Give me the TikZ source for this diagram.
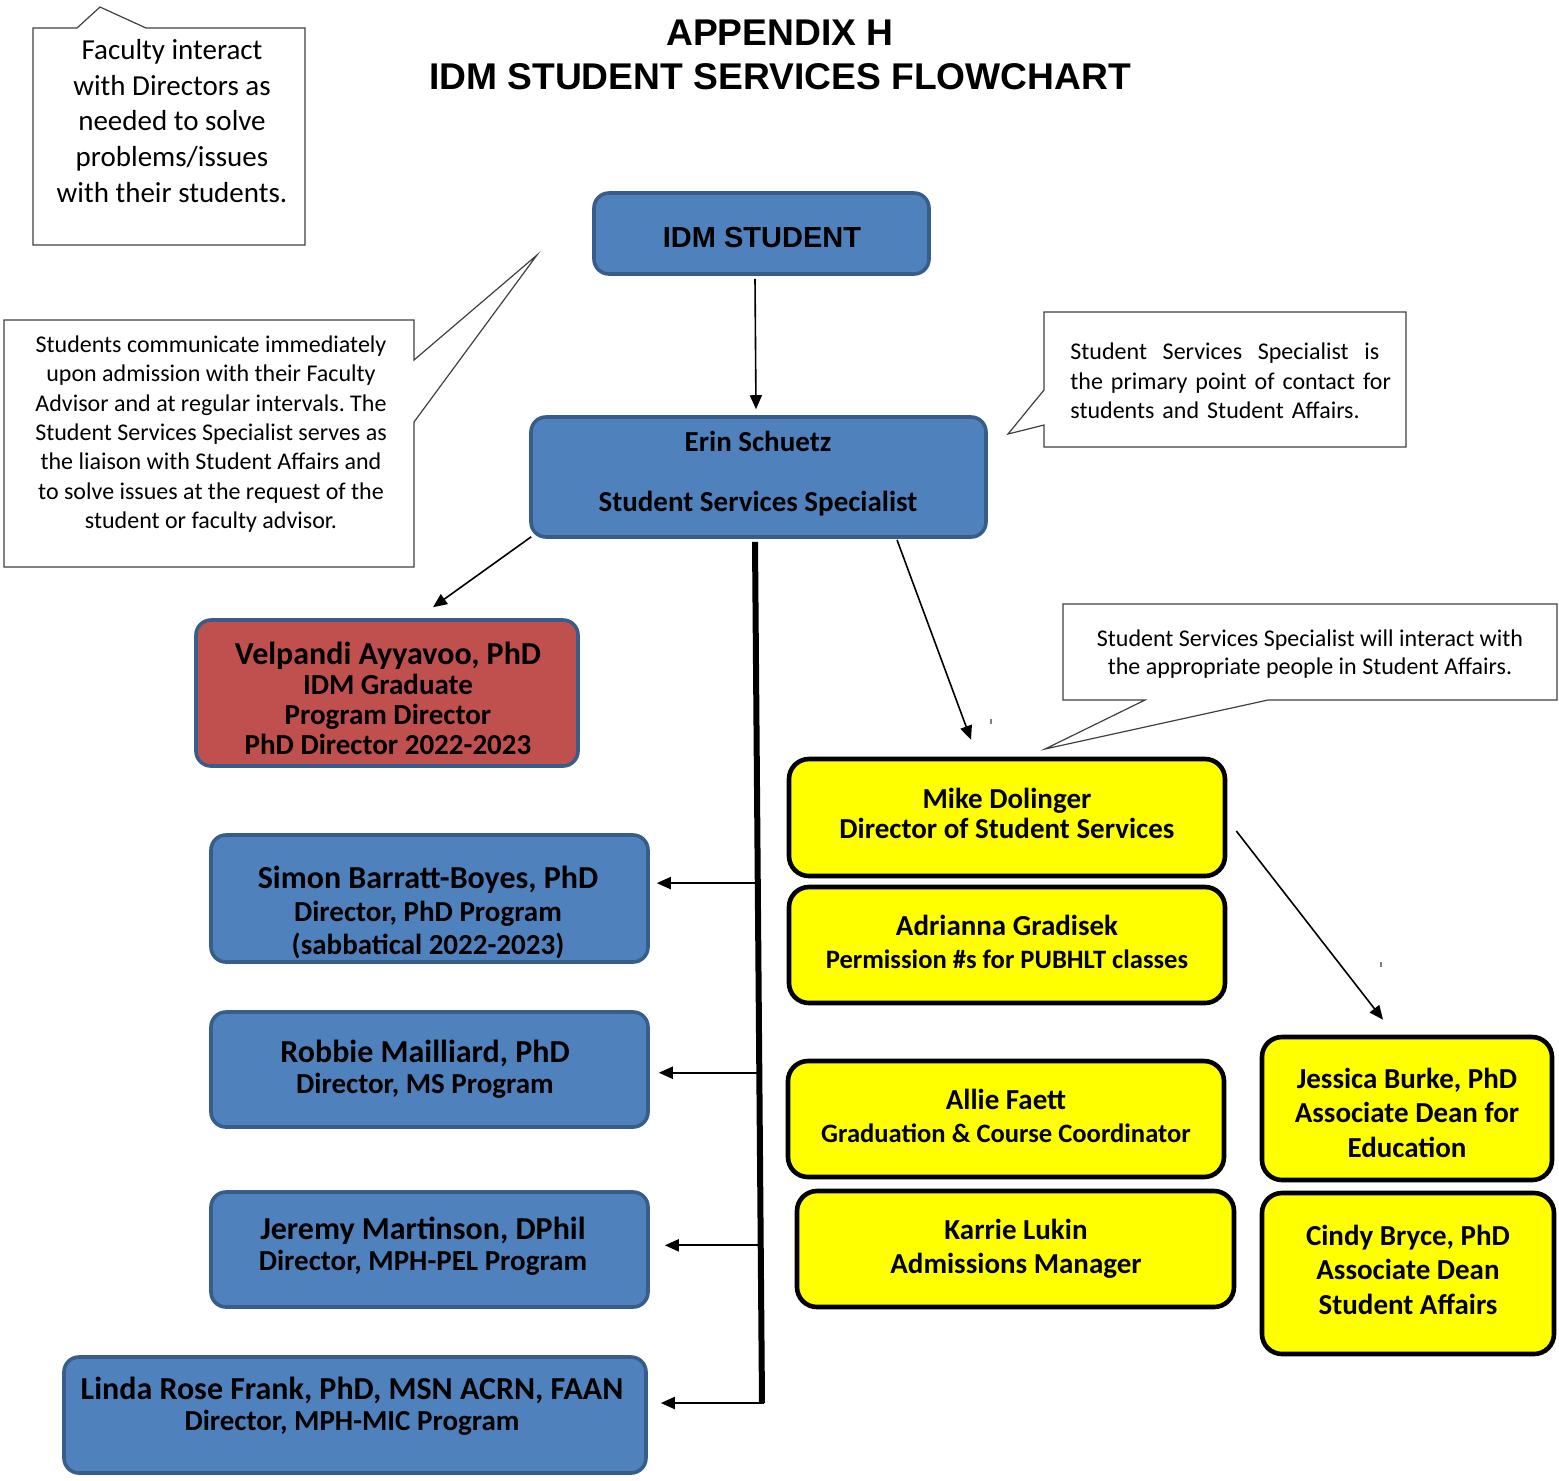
\documentclass[tikz,border=0pt]{standalone}
\usepackage{fontspec}
\setmainfont{Carlito}
\newfontfamily\arialf{Liberation Sans}
\usetikzlibrary{arrows.meta,calc}
\definecolor{boxblue}{HTML}{4F81BD}
\definecolor{edgeblue}{HTML}{385D8A}
\definecolor{boxred}{HTML}{C0504D}
\definecolor{boxyellow}{HTML}{FFFF00}
\definecolor{calloutline}{HTML}{404040}
\frenchspacing
\begin{document}
\begin{tikzpicture}[x=0.5pt,y=-0.5pt,
  bluebox/.style={draw=edgeblue, line width=1.8pt, fill=boxblue, rounded corners=7.5pt, inner sep=0pt},
  redbox/.style={bluebox, fill=boxred},
  yellowbox/.style={draw=black, line width=2.3pt, fill=boxyellow, rounded corners=10pt, inner sep=0pt},
  callout/.style={draw=calloutline, line width=0.6pt, fill=white, line join=miter},
  lbl/.style={align=center, inner sep=0pt, font=\bfseries\fontsize{14.5}{15}\selectfont},
  note/.style={align=center, inner sep=0pt},
  arr/.style={-{Triangle[length=7pt,width=6pt]}, line width=0.8pt},
  branch/.style={-{Triangle[length=7pt,width=6pt]}, line width=1pt},
  bus/.style={line width=3pt},
  speck/.style={draw=gray, line width=0.6pt}
]
\useasboundingbox (0,0) rectangle (1559,1480);

% ---------- title ----------
\node[align=center, inner sep=0pt, font=\arialf\bfseries\fontsize{18.6}{22}\selectfont] (title) at (780,55)
  {APPENDIX H\\IDM STUDENT SERVICES FLOWCHART};

% ---------- callouts ----------
\draw[callout] (33,28) -- (77,28) -- (100,7) -- (146,28) -- (305,28) -- (305,245) -- (33,245) -- cycle;
\node[note, font=\fontsize{14.5}{17.9}\selectfont] (noteA) at (172,121)
  {Faculty interact\\with Directors as\\needed to solve\\problems/issues\\with their students.};

\draw[callout] (4,320) -- (414,320) -- (414,360) -- (537,255) -- (414,422) -- (414,567) -- (4,567) -- cycle;
\node[note, font=\fontsize{12}{14.65}\selectfont] (noteB) at (211,434)
  {Students communicate immediately\\upon admission with their Faculty\\Advisor and at regular intervals. The\\Student Services Specialist serves as\\the liaison with Student Affairs and\\to solve issues at the request of the\\student or faculty advisor.};

\draw[callout] (1044,312) -- (1406,312) -- (1406,447) -- (1044,447) -- (1044,425) -- (1008,434) -- (1044,390) -- cycle;
\node[align=left, inner sep=0pt, text width=165pt, anchor=west, font=\fontsize{12}{14.85}\selectfont] (noteC) at (1070,381)
  {\hbox to 154.5pt{Student\hfill Services\hfill Specialist\hfill is}\\the primary point of contact for\\students and Student Affairs.};

\draw[callout] (1063,604) -- (1557,604) -- (1557,700) -- (1268,700) -- (1045,749) -- (1145,700) -- (1063,700) -- cycle;
\node[note, font=\fontsize{12}{14}\selectfont] (noteD) at (1310,654)
  {Student Services Specialist will interact with\\the appropriate people in Student Affairs.};

% ---------- boxes ----------
\node[bluebox, minimum width=167.5pt, minimum height=40.5pt] (student) at (761.5,233.5) {};
\node[inner sep=0pt, font=\arialf\bfseries\fontsize{14.5}{17}\selectfont] (studentT) at (762,238) {IDM STUDENT};

\node[bluebox, minimum width=227.5pt, minimum height=60pt] (erin) at (758.5,477) {};
\node[lbl] (erinT) at (758,473.5) {Erin Schuetz\\[15pt]Student Services Specialist};

\node[redbox, minimum width=191pt, minimum height=73pt] (velp) at (387,693) {};
\node[lbl] (velpT) at (388,698.5)
  {{\fontsize{16}{15}\selectfont Velpandi Ayyavoo, PhD}\\IDM Graduate\\Program Director\\PhD Director 2022-2023};

\node[bluebox, minimum width=218.5pt, minimum height=63.5pt] (simon) at (429.5,898.5) {};
\node[lbl, font=\bfseries\fontsize{14.5}{16.4}\selectfont] (simonT) at (428,912.5)
  {{\fontsize{16}{16.4}\selectfont Simon Barratt-Boyes, PhD}\\Director, PhD Program\\(sabbatical 2022-2023)};

\node[bluebox, minimum width=218.5pt, minimum height=57.5pt] (robbie) at (429.5,1069.5) {};
\node[lbl, font=\bfseries\fontsize{14.5}{15.5}\selectfont] (robbieT) at (425,1069.5)
  {{\fontsize{16}{15.5}\selectfont Robbie Mailliard, PhD}\\Director, MS Program};

\node[bluebox, minimum width=218.5pt, minimum height=57.5pt] (jeremy) at (429.5,1249.5) {};
\node[lbl, font=\bfseries\fontsize{14.5}{15.5}\selectfont] (jeremyT) at (423,1246.5)
  {{\fontsize{16}{15.5}\selectfont Jeremy Martinson, DPhil}\\Director, MPH-PEL Program};

\node[bluebox, minimum width=291pt, minimum height=58pt] (linda) at (355,1415) {};
\node[lbl, font=\bfseries\fontsize{14.5}{15.5}\selectfont] (lindaT) at (352,1406.5)
  {{\fontsize{16}{15.5}\selectfont Linda Rose Frank, PhD, MSN ACRN, FAAN}\\Director, MPH-MIC Program};

\node[yellowbox, minimum width=218pt, minimum height=58.5pt] (mike) at (1007,817.5) {};
\node[lbl] (mikeT) at (1007,813) {Mike Dolinger\\Director of Student Services};

\node[yellowbox, minimum width=218pt, minimum height=58pt] (adri) at (1007,945) {};
\node[lbl, font=\bfseries\fontsize{14.5}{16.5}\selectfont] (adriT) at (1007,942)
  {Adrianna Gradisek\\{\fontsize{13.3}{16.5}\selectfont Permission \#s for PUBHLT classes}};

\node[yellowbox, minimum width=218pt, minimum height=58pt] (allie) at (1006,1119) {};
\node[lbl, font=\bfseries\fontsize{14.5}{16.5}\selectfont] (allieT) at (1006,1116)
  {Allie Faett\\{\fontsize{13.3}{16.5}\selectfont Graduation \& Course Coordinator}};

\node[yellowbox, minimum width=218.5pt, minimum height=58pt] (karrie) at (1015.5,1249) {};
\node[lbl, font=\bfseries\fontsize{14.5}{17}\selectfont] (karrieT) at (1016,1248.5)
  {Karrie Lukin\\Admissions Manager};

\node[yellowbox, minimum width=145pt, minimum height=71.5pt] (jessica) at (1407,1108.5) {};
\node[lbl, font=\bfseries\fontsize{14.5}{17.25}\selectfont] (jessicaT) at (1407,1112.5)
  {Jessica Burke, PhD\\Associate Dean for\\Education};

\node[yellowbox, minimum width=146pt, minimum height=80.5pt] (cindy) at (1408,1273.5) {};
\node[lbl, font=\bfseries\fontsize{14.5}{17.25}\selectfont] (cindyT) at (1408,1269.5)
  {Cindy Bryce, PhD\\Associate Dean\\Student Affairs};

% ---------- connectors ----------
\draw[arr] ($(student.south)+(-6.5,3)$) -- ($(erin.north)+(-2.5,-6)$);
\draw[arr] ($(erin.south west)+(2,-2)$) -- ($(velp.north)+(46,-11)$);
\draw[arr] ($(erin.south)+(138.5,1)$) -- ($(mike.north)+(-36,-17)$);
\draw[arr] ($(mike.east)+(9,13.5)$) -- ($(jessica.north)+(-24,-15)$);

\coordinate (bustop) at ($(erin.south)+(-3.5,3)$);
\coordinate (busbot) at (762,1403);
\draw[bus] (bustop) -- (busbot);
\coordinate (b1) at ($(bustop)!0.3963!(busbot)$);
\coordinate (b2) at ($(bustop)!0.6165!(busbot)$);
\coordinate (b3) at ($(bustop)!0.8169!(busbot)$);
\coordinate (b4) at ($(busbot)+(1.5,0)$);
\coordinate (t1) at ($(simon.east)+(7,0)$);
\coordinate (t2) at ($(robbie.east)+(9,0)$);
\coordinate (t3) at ($(jeremy.east)+(15,0)$);
\coordinate (t4) at ($(linda.east)+(13,0)$);
\draw[branch] (b1) -- (b1 -| t1);
\draw[branch] (b2) -- (b2 -| t2);
\draw[branch] (b3) -- (b3 -| t3);
\draw[branch] (b4) -- (b4 -| t4);

% small specks
\draw[speck] (991,719) -- (991,724);
\draw[speck] (1381,962) -- (1381,967);
\end{tikzpicture}
\end{document}
